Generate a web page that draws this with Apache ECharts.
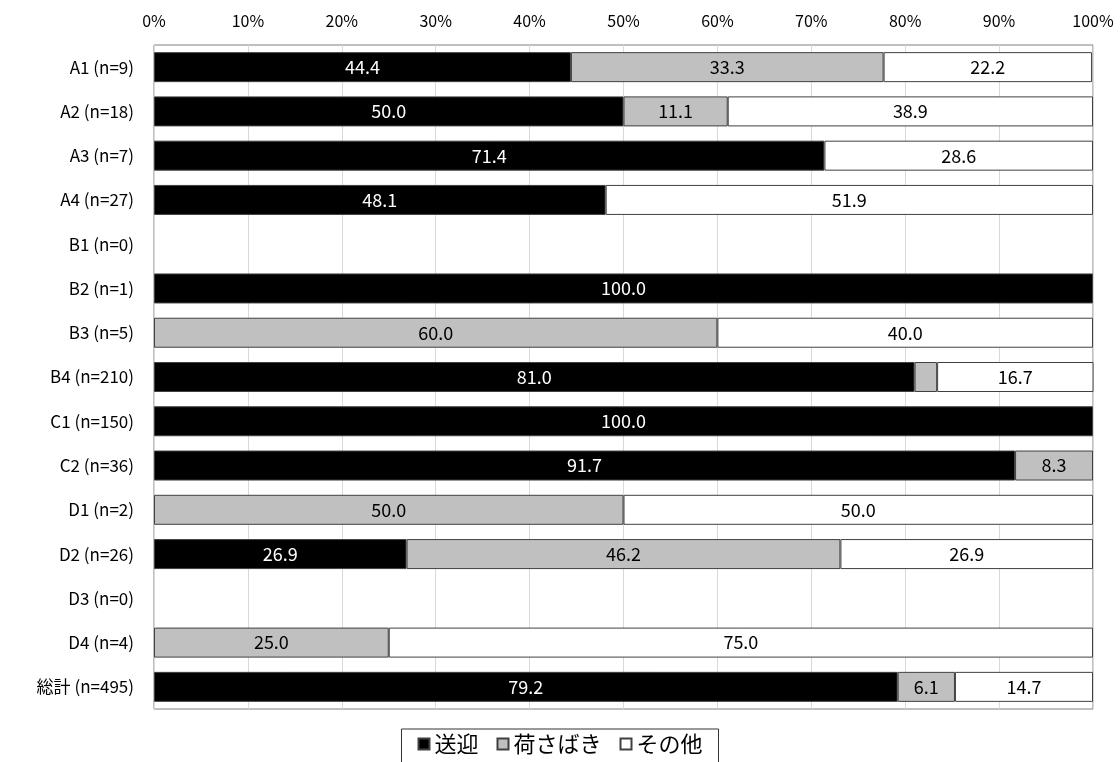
<!DOCTYPE html>
<html>
<head>
<meta charset="utf-8">
<script src="https://cdn.jsdelivr.net/npm/echarts@6/dist/echarts.min.js"></script>
<style>
  html, body { margin: 0; padding: 0; background: #fff; }
  #chart { width: 1120px; height: 762px; }
</style>
</head>
<body>
<div id="chart"></div>
<script>
var categories = ['A1 (n=9)', 'A2 (n=18)', 'A3 (n=7)', 'A4 (n=27)', 'B1 (n=0)', 'B2 (n=1)', 'B3 (n=5)', 'B4 (n=210)',
  'C1 (n=150)', 'C2 (n=36)', 'D1 (n=2)', 'D2 (n=26)', 'D3 (n=0)', 'D4 (n=4)', '総計 (n=495)'];
var sougei = [44.4, 50.0, 71.4, 48.1, 0, 100.0, 0, 81.0, 100.0, 91.7, 0, 26.9, 0, 0, 79.2];
var nisabaki = [33.3, 11.1, 0, 0, 0, 0, 60.0, 2.4, 0, 8.3, 50.0, 46.2, 0, 25.0, 6.1];
var sonota = [22.2, 38.9, 28.6, 51.9, 0, 0, 40.0, 16.7, 0, 0, 50.0, 26.9, 0, 75.0, 14.7];

var font = '"Noto Sans CJK JP", "Noto Sans", sans-serif';

function labelFmt(p) {
  return p.value >= 3 ? p.value.toFixed(1) : '';
}

// zero-width segments would still draw a border stroke, so leave them out
function dropZeros(arr) {
  return arr.map(function (v) { return v === 0 ? '-' : v; });
}

function makeSeries(name, data, fill, textColor) {
  return {
    name: name,
    type: 'bar',
    stack: 'total',
    barWidth: 30,
    data: dropZeros(data),
    itemStyle: { color: fill, borderColor: '#404040', borderWidth: 1 },
    label: {
      show: true,
      position: 'inside',
      formatter: labelFmt,
      color: textColor,
      fontFamily: font,
      fontSize: 18
    }
  };
}

var chart = echarts.init(document.getElementById('chart'));
chart.setOption({
  animation: false,
  grid: {
    left: 154, right: 27, top: 45, height: 664,
    show: true, borderColor: '#808080', borderWidth: 1
  },
  legend: {
    data: ['送迎', '荷さばき', 'その他'],
    top: 729,
    left: 'center',
    icon: 'rect',
    itemWidth: 11,
    itemHeight: 11,
    itemGap: 18,
    borderColor: '#333',
    borderWidth: 1,
    borderRadius: 0,
    padding: [4, 16, 10, 16],
    textStyle: { fontFamily: font, fontSize: 22, color: '#000' }
  },
  xAxis: {
    type: 'value',
    position: 'top',
    min: 0, max: 100, interval: 10,
    axisLine: { show: false },
    axisTick: { show: false },
    splitLine: { lineStyle: { color: '#d9d9d9' } },
    axisLabel: {
      formatter: '{value}%',
      fontFamily: font, fontSize: 16, color: '#000', margin: 16
    }
  },
  yAxis: {
    type: 'category',
    inverse: true,
    data: categories,
    axisLine: { show: false },
    axisTick: { show: false },
    axisLabel: { fontFamily: font, fontSize: 17, color: '#000', margin: 20 }
  },
  series: [
    makeSeries('送迎', sougei, '#000000', '#ffffff'),
    makeSeries('荷さばき', nisabaki, '#c0c0c0', '#000000'),
    makeSeries('その他', sonota, '#ffffff', '#000000')
  ]
});
</script>
</body>
</html>
